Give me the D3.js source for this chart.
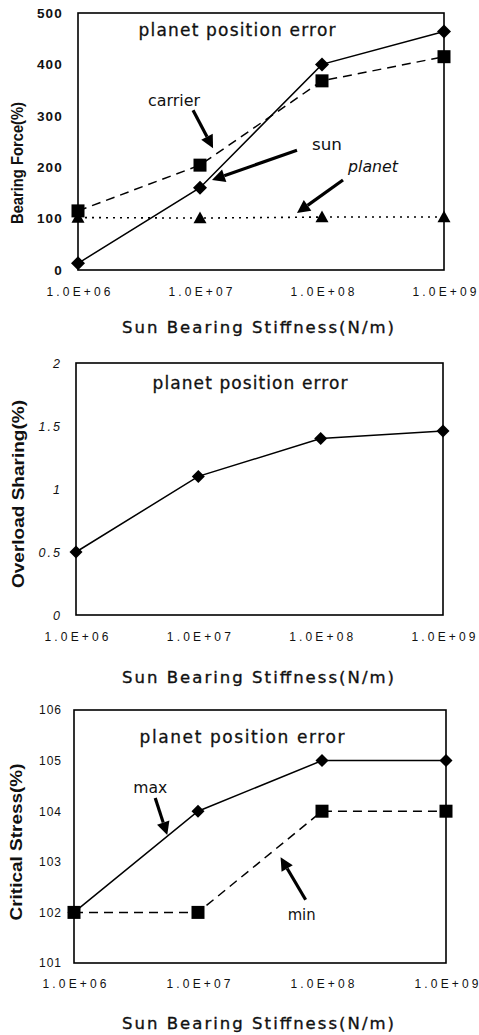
<!DOCTYPE html>
<html>
<head>
<meta charset="utf-8">
<script src="https://cdn.jsdelivr.net/npm/d3@7/dist/d3.min.js"></script>
<style>
  html, body { margin: 0; padding: 0; background: #fff; }
  svg { display: block; }
  text { fill: #111; }
</style>
</head>
<body>
<svg id="chart" width="479" height="1035"></svg>
<script>
// Sun bearing stiffness (N/m) and its tick labels
const stiffness = [1e6, 1e7, 1e8, 1e9];
const stiffnessLabels = ["1.0E+06", "1.0E+07", "1.0E+08", "1.0E+09"];

// Bearing force (%)
const bearingSun = [13, 160, 400, 464];
const bearingCarrier = [115, 204, 368, 415];
const bearingPlanet = [102, 101, 103, 103];
const bearingTicks = [0, 100, 200, 300, 400, 500];

// Overload sharing (%)
const overloadSharing = [0.5, 1.1, 1.4, 1.46];
const overloadTicks = [0, 0.5, 1, 1.5, 2];
const overloadTickLabels = ["0", "0.5", "1", "1.5", "2"];

// Critical stress (%)
const stressMax = [102, 104, 105, 105];
const stressMin = [102, 102, 104, 104];
const stressTicks = [101, 102, 103, 104, 105, 106];

const FONT = "'DejaVu Sans', 'Liberation Sans', Arial, sans-serif";
const ARIAL = "'Liberation Sans', Arial, sans-serif";
const svg = d3.select("#chart");

function diamond(g, x, y, r) {
  g.append("path")
    .attr("d", `M${x},${y - r}L${x + r},${y}L${x},${y + r}L${x - r},${y}Z`)
    .attr("fill", "#000");
}
function square(g, x, y, r) {
  g.append("rect").attr("x", x - r).attr("y", y - r)
    .attr("width", 2 * r).attr("height", 2 * r).attr("fill", "#000");
}
function triangle(g, x, y, r) {
  g.append("path")
    .attr("d", `M${x},${y - r}L${x + r},${y + r * 0.8}L${x - r},${y + r * 0.8}Z`)
    .attr("fill", "#000");
}

function arrow(g, x1, y1, x2, y2) {
  const dx = x2 - x1, dy = y2 - y1;
  const len = Math.hypot(dx, dy);
  const ux = dx / len, uy = dy / len;
  const hl = 13, hw = 6.5;
  const bx = x2 - ux * hl, by = y2 - uy * hl;
  g.append("line").attr("x1", x1).attr("y1", y1).attr("x2", bx).attr("y2", by)
    .attr("stroke", "#000").attr("stroke-width", 3.2);
  g.append("path")
    .attr("d", `M${x2},${y2}L${bx - uy * hw},${by + ux * hw}L${bx + uy * hw},${by - ux * hw}Z`)
    .attr("fill", "#000");
}

function panel(opt) {
  const g = svg.append("g");
  const x = d3.scaleLog().domain([1e6, 1e9]).range([opt.left, opt.right]);
  const y = d3.scaleLinear().domain(opt.yDomain).range([opt.bottom, opt.top]);

  // y axis labels
  const ya = g.append("g").attr("transform", `translate(${opt.left},0)`)
    .call(d3.axisLeft(y).tickValues(opt.yTicks).tickSize(0).tickPadding(opt.yPad)
      .tickFormat((d, i) => opt.yLabels ? opt.yLabels[i] : d));
  ya.select(".domain").remove();
  ya.selectAll("text").attr("font-family", ARIAL).attr("font-size", opt.yFont)
    .attr("font-weight", opt.yWeight).attr("font-style", opt.yStyle || "normal")
    .attr("letter-spacing", opt.ySpacing).attr("fill", "#111");

  // x axis labels
  const xa = g.append("g").attr("transform", `translate(0,${opt.bottom})`)
    .call(d3.axisBottom(x).tickValues(stiffness).tickSize(0).tickPadding(opt.xPad)
      .tickFormat((d, i) => stiffnessLabels[i]));
  xa.select(".domain").remove();
  xa.selectAll("text").attr("font-family", ARIAL).attr("font-size", 12)
    .attr("textLength", 64).attr("lengthAdjust", "spacing").attr("fill", "#111");

  // plot frame
  g.append("rect").attr("x", opt.left).attr("y", opt.top)
    .attr("width", opt.right - opt.left).attr("height", opt.bottom - opt.top)
    .attr("fill", "none").attr("stroke", "#000").attr("stroke-width", 1.6);

  // panel title
  g.append("text").attr("x", opt.titleX).attr("y", opt.titleY)
    .attr("text-anchor", "middle").attr("font-family", FONT).attr("font-size", 17)
    .attr("stroke", "#111").attr("stroke-width", 0.3)
    .attr("textLength", opt.titleW).attr("lengthAdjust", "spacing")
    .text("planet position error");

  // axis titles
  g.append("text").attr("x", 258).attr("y", opt.xTitleY)
    .attr("text-anchor", "middle").attr("font-family", FONT).attr("font-size", 16.5)
    .attr("stroke", "#111").attr("stroke-width", 0.35)
    .attr("textLength", 272).attr("lengthAdjust", "spacing")
    .text("Sun Bearing Stiffness(N/m)");
  g.append("text")
    .attr("transform", `translate(${opt.yTitleX},${opt.yTitleY}) rotate(-90)`)
    .attr("text-anchor", "middle").attr("font-family", ARIAL).attr("font-size", 17)
    .attr("font-weight", "bold")
    .attr("textLength", opt.yTitleW).attr("lengthAdjust", "spacingAndGlyphs")
    .text(opt.yTitle);

  // series
  opt.series.forEach(s => {
    const line = d3.line().x((d, i) => x(stiffness[i])).y(d => y(d));
    g.append("path").datum(s.values).attr("d", line)
      .attr("fill", "none").attr("stroke", "#000").attr("stroke-width", s.width || 1.5)
      .attr("stroke-dasharray", s.dash || null);
    s.values.forEach((v, i) => s.marker(g, x(stiffness[i]), y(v), s.size));
  });

  // annotations given in data space: log10(stiffness), value
  (opt.notes || []).forEach(n => {
    g.append("text").attr("x", x(Math.pow(10, n.lx))).attr("y", y(n.v))
      .attr("text-anchor", "middle").attr("font-family", FONT).attr("font-size", 15)
      .attr("font-style", n.italic ? "italic" : "normal")
      .attr("textLength", n.w).attr("lengthAdjust", "spacingAndGlyphs")
      .text(n.text);
    arrow(g, x(Math.pow(10, n.from[0])), y(n.from[1]), x(Math.pow(10, n.to[0])), y(n.to[1]));
  });
}

panel({
  left: 78, right: 444, top: 13, bottom: 270,
  yDomain: [0, 500], yTicks: bearingTicks, yPad: 15, yFont: 13.5, yWeight: "bold", ySpacing: 1.2,
  xPad: 17, titleX: 237, titleY: 36, titleW: 197, xTitleY: 333,
  yTitle: "Bearing Force(%)", yTitleX: 23, yTitleY: 163, yTitleW: 122,
  series: [
    { values: bearingSun, marker: diamond, size: 7 },
    { values: bearingCarrier, marker: square, size: 6.5, dash: "9,6" },
    { values: bearingPlanet, marker: triangle, size: 6.5, dash: "2,5", width: 1.6 }
  ],
  notes: [
    { text: "carrier", lx: 6.787, v: 319, w: 52, from: [6.943, 311], to: [7.107, 237] },
    { text: "sun", lx: 8.041, v: 233, w: 30, from: [7.795, 233], to: [7.098, 175] },
    { text: "planet", lx: 8.418, v: 191, w: 50, italic: true, from: [8.172, 175], to: [7.795, 111] }
  ]
});

panel({
  left: 76, right: 443, top: 363, bottom: 615,
  yDomain: [0, 2], yTicks: overloadTicks, yLabels: overloadTickLabels,
  yPad: 14, yFont: 12.5, yWeight: "normal", yStyle: "italic", ySpacing: 2,
  xPad: 17, titleX: 250, titleY: 389, titleW: 195, xTitleY: 683,
  yTitle: "Overload Sharing(%)", yTitleX: 24, yTitleY: 494, yTitleW: 188,
  series: [
    { values: overloadSharing, marker: diamond, size: 6.5 }
  ]
});

panel({
  left: 74, right: 446, top: 710, bottom: 963,
  yDomain: [101, 106], yTicks: stressTicks, yPad: 12, yFont: 12, yWeight: "normal", ySpacing: 1,
  xPad: 16, titleX: 242, titleY: 743, titleW: 205, xTitleY: 1029,
  yTitle: "Critical Stress(%)", yTitleX: 22, yTitleY: 842, yTitleW: 157,
  series: [
    { values: stressMax, marker: diamond, size: 6.5 },
    { values: stressMin, marker: square, size: 6.5, dash: "9,6" }
  ],
  notes: [
    { text: "max", lx: 6.615, v: 104.36, w: 34, from: [6.655, 104.26], to: [6.752, 103.53] },
    { text: "min", lx: 7.836, v: 101.85, w: 28, from: [7.868, 102.25], to: [7.666, 103.09] }
  ]
});
</script>
</body>
</html>
